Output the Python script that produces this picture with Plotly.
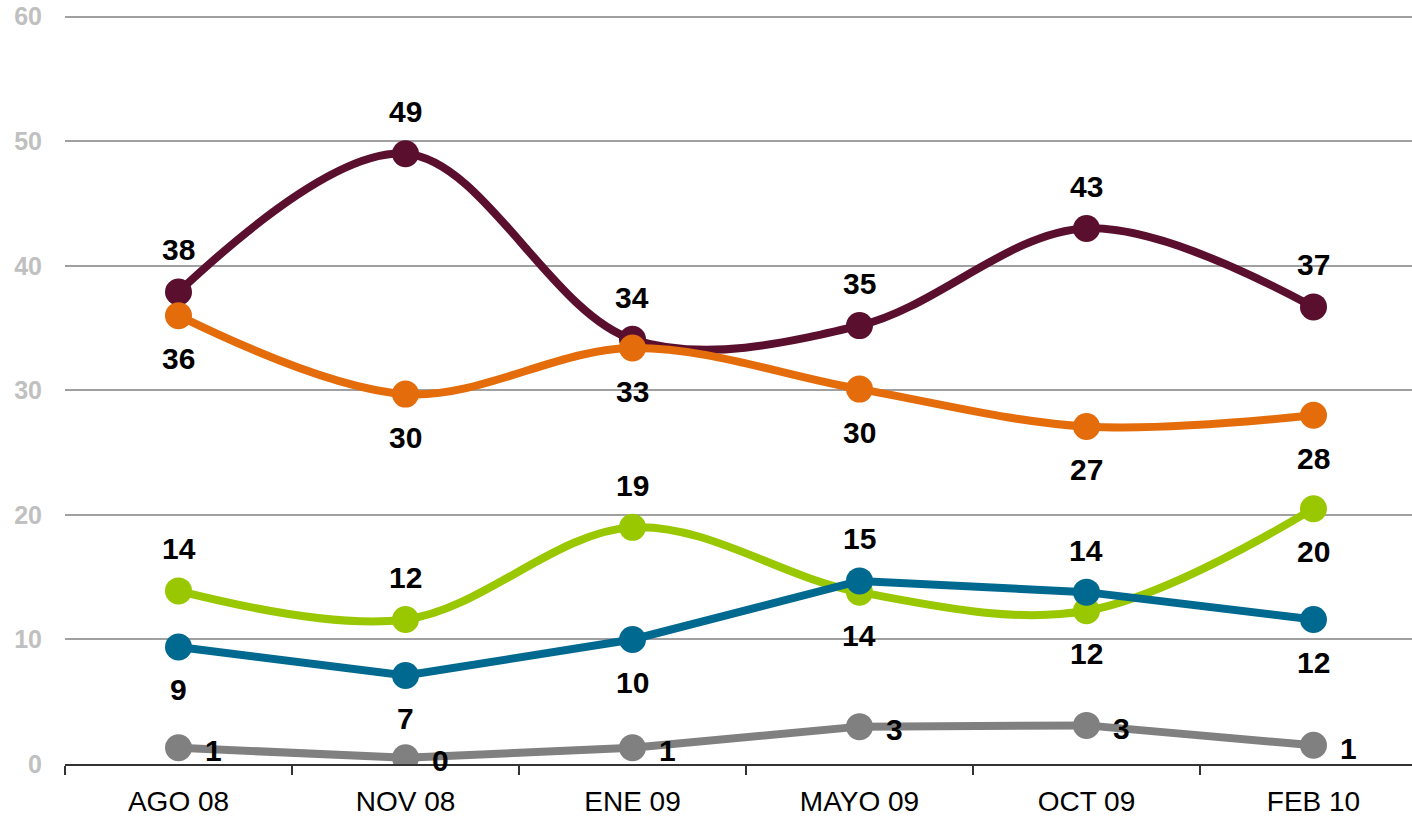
#Line chart of survey series (AGO 08 - FEB 10) rebuilt with plotly
import plotly.graph_objects as go

months = ["AGO 08", "NOV 08", "ENE 09", "MAYO 09", "OCT 09", "FEB 10"]

serie_granate = [37.9, 49.0, 34.1, 35.2, 43.0, 36.7]
serie_naranja = [36.0, 29.7, 33.4, 30.1, 27.1, 28.0]
serie_verde = [13.9, 11.6, 19.0, 13.8, 12.3, 20.5]
serie_azul = [9.4, 7.1, 10.0, 14.7, 13.8, 11.6]
serie_gris = [1.3, 0.5, 1.3, 3.0, 3.1, 1.5]

labels_granate = ["38", "49", "34", "35", "43", "37"]
labels_naranja = ["36", "30", "33", "30", "27", "28"]
labels_verde = ["14", "12", "19", "14", "12", "20"]
labels_azul = ["9", "7", "10", "15", "14", "12"]
labels_gris = ["1", "0", "1", "3", "3", "1"]

# where each label sits relative to its point
place_granate = ["up"] * 6
place_naranja = ["down"] * 6
place_verde = ["up", "up", "up", "down", "down", "down"]
place_azul = ["down", "down", "down", "up", "up", "down"]
place_gris = ["right"] * 6

# drawing order: first is at the bottom
series = [
    (serie_gris, labels_gris, place_gris, "#808080", "linear"),
    (serie_granate, labels_granate, place_granate, "#5a0f2e", "spline"),
    (serie_naranja, labels_naranja, place_naranja, "#e46c0a", "spline"),
    (serie_verde, labels_verde, place_verde, "#99c800", "spline"),
    (serie_azul, labels_azul, place_azul, "#006990", "linear"),
]

fig = go.Figure()
annotations = []
for values, labels, places, color, shape in series:
    fig.add_trace(go.Scatter(
        x=months, y=values, mode="lines+markers",
        line=dict(color=color, width=8, shape=shape, smoothing=1),
        marker=dict(color=color, size=27),
        showlegend=False, hoverinfo="skip",
    ))
    for m, v, t, p in zip(months, values, labels, places):
        if p == "up":
            xs, ys = 0, 42
        elif p == "down":
            xs, ys = 0, -43
        else:
            xs, ys = 35, -3
        annotations.append(dict(
            x=m, y=v, text=t, showarrow=False, xshift=xs, yshift=ys,
            font=dict(family="Liberation Sans, Arial", size=30, color="black", weight="bold"),
        ))

# y range goes a bit past 60 so the top gridline is not clipped
fig.update_layout(
    width=1412, height=822,
    margin=dict(l=65, r=0, t=13, b=58),
    plot_bgcolor="white", paper_bgcolor="white",
    annotations=annotations,
    xaxis=dict(
        range=[-0.5, 5.434], tickson="boundaries", ticks="outside", ticklen=9,
        tickcolor="#333333", tickwidth=1.5, showline=True, linecolor="#333333", linewidth=1.5,
        showgrid=False, ticklabelstandoff=12, automargin=False,
        tickfont=dict(family="Liberation Sans, Arial", size=28, color="black"),
    ),
    yaxis=dict(
        range=[0, 60.3], tickvals=[0, 10, 20, 30, 40, 50, 60], showgrid=True,
        gridcolor="#a0a0a0", gridwidth=2,
        zeroline=False, showline=False, ticklabelstandoff=22, automargin=False,
        ticklabeloverflow="allow",
        tickfont=dict(family="Liberation Sans, Arial", size=25, color="#c0c0c0", weight="bold"),
    ),
)

# drop the page's default body margin so the figure fills the window
fig.write_html("out.html", config={"displayModeBar": False},
               post_script="document.body.style.margin='0';")
